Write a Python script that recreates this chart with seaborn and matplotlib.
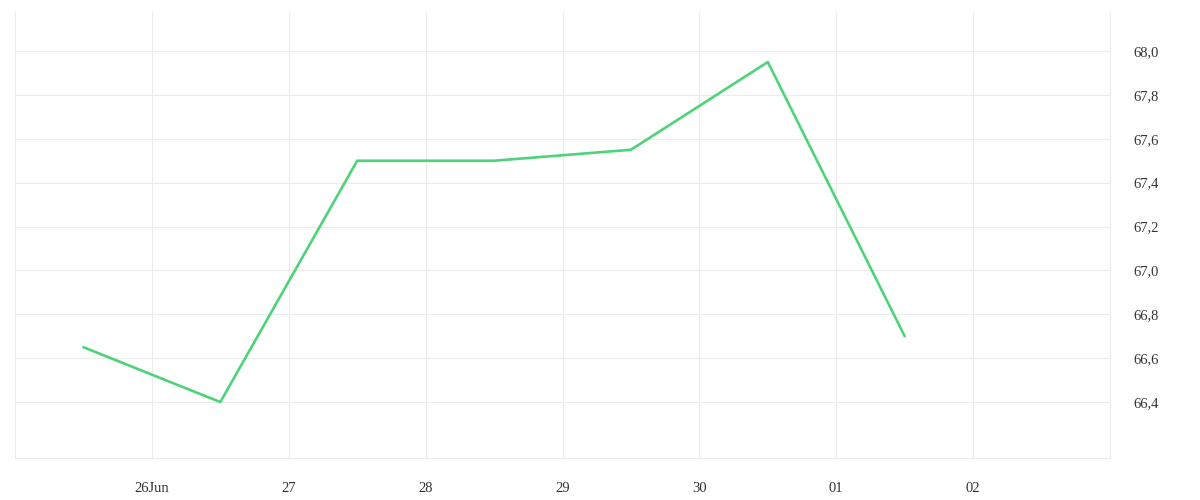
import matplotlib
matplotlib.use("Agg")
import matplotlib.pyplot as plt
import seaborn as sns
import pandas as pd

# data (points sit at noon of each day)
times = pd.to_datetime([
    "2023-06-25 12:00", "2023-06-26 12:00", "2023-06-27 12:00", "2023-06-28 12:00",
    "2023-06-29 12:00", "2023-06-30 12:00", "2023-07-01 12:00",
])
values = [66.65, 66.4, 67.5, 67.5, 67.55, 67.95, 66.7]

tick_days = pd.date_range("2023-06-25", "2023-07-03", freq="D")
tick_labels = ["", "26Jun", "27", "28", "29", "30", "01", "02", ""]
y_ticks = [66.4, 66.6, 66.8, 67.0, 67.2, 67.4, 67.6, 67.8, 68.0]

sns.set_style("white")
plt.rcParams["font.family"] = ["Liberation Serif", "DejaVu Serif"]

grid_col = "#ececec"
df = pd.DataFrame({"time": times, "value": values})

fig = plt.figure(figsize=(12, 5), dpi=100)
ax = fig.add_axes([15 / 1200, 42 / 500, 1095 / 1200, 446 / 500])

sns.lineplot(data=df, x="time", y="value", ax=ax, color="#4ed37a", linewidth=1.9)

ax.set_xlim(tick_days[0], tick_days[-1])
ax.set_ylim(66.145, 68.178)

ax.set_xticks(tick_days)
ax.set_xticklabels(tick_labels)
ax.set_yticks(y_ticks)
ax.set_yticklabels([f"{v:.1f}".replace(".", ",") for v in y_ticks])

ax.yaxis.tick_right()
ax.grid(True, color=grid_col, linewidth=0.8)
for gl in ax.get_xgridlines():
    gl.set_clip_on(False)
ax.tick_params(axis="x", length=7.5, color=grid_col, width=0.8, pad=10,
               labelsize=10.5, labelcolor="#333333")
ax.tick_params(axis="y", length=0, pad=17, labelsize=10.5, labelcolor="#333333")

for side in ["top", "left", "right"]:
    ax.spines[side].set_visible(False)
ax.spines["bottom"].set_color(grid_col)
ax.spines["bottom"].set_linewidth(0.8)

ax.set_xlabel("")
ax.set_ylabel("")

fig.savefig("out.png", dpi=100)
